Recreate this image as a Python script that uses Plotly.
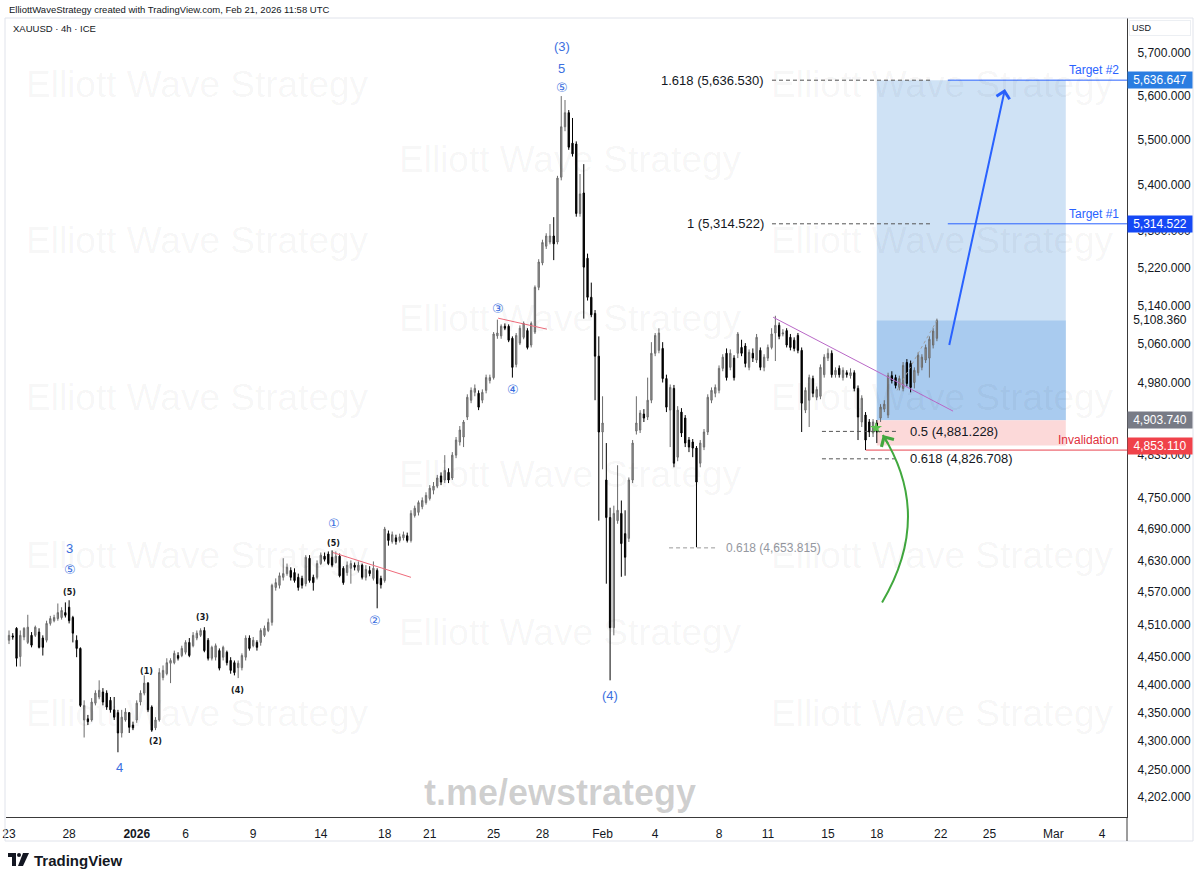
import numpy as np
import plotly.graph_objects as go

# ---------------- data (XAUUSD 4h) ----------------
open_ = [4481,4489,4503,4451,4487,4477,4490,4490,4496,4485,4481,4512,4517,4521,4523,4532,4542,4523,4481,4466,
         4337,4339,4337,4367,4378,4387,4385,4372,4355,4350,4314,4337,4350,4328,4337,4369,4385,4403,4360,4323,
         4337,4413,4420,4439,4440,4453,4453,4459,4477,4471,4485,4490,4499,4481,4448,4450,4462,4450,4459,4444,
         4440,4431,4431,4450,4485,4471,4477,4477,4490,4499,4514,4579,4583,4598,4605,4611,4607,4598,4596,4586,
         4634,4598,4598,4624,4638,4642,4636,4626,4638,4615,4607,4615,4621,4611,4621,4598,4611,4596,4611,4596,
         4592,4681,4666,4673,4668,4673,4677,4668,4716,4722,4733,4741,4749,4765,4773,4793,4785,4800,4789,4834,
         4860,4870,4910,4944,4960,4958,4944,4964,4984,4990,5076,5076,5096,5096,5071,5017,5061,5073,5087,5057,
         5084,5178,5230,5266,5275,5288,5275,5417,5530,5562,5493,5491,5337,5382,5240,5157,5123,5034,4880,4785,
         4712,4504,4706,4720,4681,4672,4785,4882,4884,4916,4910,4944,5040,5046,5050,4988,4924,4968,4830,4920,
         4908,4864,4860,4848,4818,4850,4880,4944,4958,4964,5009,5040,5011,5030,5040,5052,5055,5011,5040,5026,
         5046,5011,5030,5052,5082,5098,5080,5087,5073,5067,5077,5046,4924,4944,4988,4950,4952,4996,5030,5040,
         4996,5009,4990,5000,4994,5000,4968,4900,4914,4900,4878,4898,4908,4926,4914,4994,4990,4970,4968,5021,
         5019,4980,5000,5011,5026,5030,5057,5071]
high = [4499,4494,4505,4499,4505,4528,4496,4508,4503,4490,4517,4526,4528,4549,4542,4551,4555,4526,4490,4468,
        4372,4346,4376,4390,4408,4394,4390,4378,4378,4355,4355,4358,4351,4334,4372,4390,4417,4405,4363,4342,
        4430,4435,4448,4448,4462,4459,4471,4481,4485,4496,4499,4503,4505,4485,4471,4475,4466,4471,4462,4450,
        4444,4444,4457,4490,4490,4487,4481,4503,4508,4521,4586,4596,4607,4634,4624,4617,4615,4605,4601,4640,
        4640,4603,4630,4645,4645,4647,4649,4647,4643,4619,4628,4630,4626,4628,4624,4621,4619,4628,4615,4601,
        4694,4687,4685,4679,4681,4685,4683,4726,4735,4745,4751,4761,4775,4781,4795,4800,4834,4808,4840,4870,
        4892,4904,4956,4970,4976,4964,4966,4996,4996,5084,5110,5100,5102,5100,5075,5082,5098,5106,5092,5106,
        5182,5238,5280,5294,5314,5329,5420,5600,5591,5568,5550,5497,5424,5446,5250,5188,5130,5075,4952,4858,
        4731,4735,4814,4745,4726,4790,4864,4952,4924,4926,4990,5063,5082,5092,5063,4996,4976,4975,4932,4928,
        4914,4870,4866,4852,4864,4886,4956,4970,4976,5015,5038,5050,5048,5036,5084,5068,5061,5048,5050,5080,
        5052,5038,5058,5092,5118,5104,5090,5092,5080,5073,5082,5052,4970,4996,4994,4972,5017,5038,5050,5046,
        5011,5015,5011,5005,5009,5005,4974,4954,4920,4906,4906,4904,4936,4944,5000,5003,4996,4994,5022,5028,
        5025,5011,5042,5038,5058,5075,5092,5112]
low = [4474,4482,4433,4433,4481,4474,4468,4487,4466,4453,4477,4508,4514,4517,4519,4523,4512,4477,4450,4360,
       4306,4328,4334,4363,4374,4363,4355,4350,4337,4280,4306,4334,4314,4319,4332,4363,4381,4351,4316,4319,
       4334,4408,4417,4403,4437,4444,4450,4455,4450,4468,4481,4487,4459,4444,4444,4444,4426,4444,4435,4420,
       4417,4412,4426,4444,4462,4468,4462,4471,4487,4496,4508,4573,4577,4592,4601,4592,4588,4573,4577,4581,
       4588,4573,4594,4621,4628,4621,4617,4624,4598,4584,4601,4586,4611,4607,4594,4592,4600,4592,4540,4577,
       4588,4658,4662,4660,4664,4668,4664,4664,4712,4716,4728,4737,4745,4757,4769,4775,4779,4779,4785,4828,
       4853,4850,4904,4938,4952,4924,4938,4958,4978,4986,5070,5070,5088,5063,4990,5011,5057,5069,5048,5052,
       5080,5172,5225,5260,5270,5236,5270,5410,5520,5478,5463,5330,5330,5112,5150,5115,4944,4706,4806,4586,
       4408,4490,4700,4599,4601,4665,4779,4875,4878,4900,4904,4938,5034,5040,4980,4920,4850,4810,4822,4870,
       4850,4840,4830,4655,4810,4844,4874,4938,4950,4958,5003,4984,5005,4984,5030,5034,5011,5005,5022,5020,
       5005,5003,5024,5048,5024,5069,5075,5052,5046,5044,5040,4880,4918,4890,4950,4944,4946,4990,5024,4990,
       4990,4990,4984,4990,4988,4962,4864,4890,4844,4870,4870,4858,4900,4920,4908,4978,4968,4964,4962,4972,
       4960,4968,4994,5005,5020,4990,5050,5065]
close = [4490,4487,4448,4490,4503,4505,4472,4505,4468,4468,4512,4521,4523,4532,4536,4527,4517,4494,4466,4363,
         4363,4334,4369,4385,4390,4369,4360,4355,4342,4314,4342,4351,4324,4323,4367,4385,4403,4355,4319,4337,
         4422,4426,4440,4444,4457,4448,4466,4477,4453,4490,4494,4499,4462,4448,4468,4471,4430,4468,4440,4426,
         4422,4439,4453,4485,4466,4481,4468,4499,4503,4514,4583,4588,4601,4605,4617,4598,4592,4579,4583,4636,
         4592,4588,4624,4640,4632,4624,4621,4638,4601,4588,4621,4624,4617,4621,4598,4613,4605,4615,4586,4584,
         4690,4668,4679,4666,4675,4679,4668,4720,4730,4741,4745,4755,4769,4773,4789,4781,4804,4785,4834,4864,
         4884,4900,4950,4964,4968,4930,4960,4990,4990,5080,5082,5096,5092,5067,5011,5077,5092,5102,5052,5102,
         5178,5232,5274,5288,5288,5271,5415,5530,5562,5484,5469,5337,5380,5221,5157,5120,5034,4880,4898,4712,
         4504,4720,4726,4662,4636,4785,4858,4898,4918,4908,4944,5040,5077,5082,4988,4930,4970,4818,4924,4878,
         4858,4850,4848,4781,4858,4880,4950,4964,4970,5009,5032,4990,5040,4990,5080,5040,5019,5042,5030,5073,
         5011,5032,5052,5080,5098,5075,5082,5057,5052,5050,5046,4938,4964,4990,4958,4966,5011,5032,5040,4996,
         5005,4996,5005,4996,5000,4968,4910,4948,4864,4880,4900,4880,4930,4936,4994,4984,4974,4988,5015,4978,
         4970,5005,5036,5032,5052,5069,5086,5108.36]

# time-axis labels (bar index where each day label sits)
date_tick_bar = [0, 16, 34, 47, 65, 83, 100, 112, 129, 142, 158, 172, 189, 202, 218, 231, 248, 261, 278, 291]
date_tick_text = ["23", "28", "<b>2026</b>", "6", "9", "14", "18", "21", "25", "28",
                  "Feb", "4", "8", "11", "15", "18", "22", "25", "Mar", "4"]

# price-axis labels
price_tick_vals = [5700, 5600, 5500, 5400, 5300, 5220, 5140, 5060, 4980, 4900, 4835,
                   4750, 4690, 4630, 4570, 4510, 4450, 4400, 4350, 4300, 4250, 4202]

# Fibonacci levels & trade levels
fib_ext_prices = [5636.530, 5314.522]
fib_ext_text = ["1.618 (5,636.530)", "1 (5,314.522)"]
fib_ret_prices = [4881.228, 4826.708]
fib_ret_text = ["0.5 (4,881.228)", "0.618 (4,826.708)"]
fib_old_price = 4653.815
fib_old_text = "0.618 (4,653.815)"

entry_price = 4903.740
target2_price = 5636.647
target1_price = 5314.522
stop_price = 4853.110
last_price = 5108.360
invalidation_price = 4844

# Elliott wave labels: (bar, price, text, kind)
wave_labels = [
    (16.2, 4653, "3", "big"), (16.2, 4613, "⑤", "circ"), (16.0, 4570, "(5)", "small"),
    (36.7, 4424, "(1)", "small"), (38.9, 4299, "(2)", "small"), (51.6, 4523, "(3)", "small"),
    (60.7, 4390, "(4)", "small"), (29.3, 4254, "4", "big"),
    (86.5, 4700, "①", "circ"), (86.5, 4662, "(5)", "small"), (97.4, 4517, "②", "circ"),
    (130.2, 5133, "③", "circ"), (134.1, 4966, "④", "circ"),
    (147.2, 5716, "(3)", "big"), (147.2, 5664, "5", "big"), (147.2, 5619, "⑤", "circ"),
    (160.0, 4381, "(4)", "big"),
]

# drawn trendlines: (bar0, price0, bar1, price1, colour, dash)
trendlines = [
    (86.2, 4645, 107.0, 4598, "#ef6b7b", "solid"),
    (130.2, 5113, 143.2, 5090, "#ef6b7b", "solid"),
    (203.4, 5115, 251.3, 4922, "#b968c7", "solid"),
    (236.4, 4964, 247.0, 5108, "#a0a0a0", "3px,3px"),
]

# drawing anchors (bar index / price)
box_bar0, box_bar1 = 231.0, 281.3
ext_bar0, ext_bar1, ext_label_bar = 203.1, 245.7, 201.5
ret_bar0, ret_bar1, ret_label_bar = 216.4, 236.6, 239.3
old_bar0, old_bar1, old_label_bar = 175.7, 188.5, 190.3
target_bar0 = 249.9
invalid_bar0 = 228.1
blue_arrow = (250.2, 5054, 265.1, 5616)
green_arrow = (232.4, 4551, 246.1, 4715, 232.6, 4874)
green_star = (230.8, 4888)

# ---------------- figure ----------------
W, H = 1200, 881
ML, MR, MT, MB = 6, 73, 18, 64
PW, PH = W - ML - MR, H - MT - MB
XMIN, XMAX = -0.8, 297.6
YMIN, YMAX = 4168, 5782


def pxx(x):
    return (x - ML) / PW


def pxy(y):
    return (H - MB - y) / PH


FONT = "Liberation Sans, Arial, sans-serif"
BLUE = "#3b6fe0"
FIBDASH = "4px,3px"
bars = list(range(len(close)))

fig = go.Figure()
fig.add_trace(go.Candlestick(
    x=bars, open=open_, high=high, low=low, close=close,
    increasing=dict(line=dict(color="#6c6c6c", width=1), fillcolor="#9b9b9b"),
    decreasing=dict(line=dict(color="#000000", width=1), fillcolor="#000000"),
    whiskerwidth=0, hoverinfo="skip", showlegend=False,
))

# green star marker
fig.add_trace(go.Scatter(x=[green_star[0]], y=[green_star[1]], mode="markers",
                         marker=dict(symbol="star", size=9, color="#5cc14f"),
                         hoverinfo="skip", showlegend=False))

shapes = []
ann = []

# position tool boxes
shapes.append(dict(type="rect", xref="x", yref="y", x0=box_bar0, x1=box_bar1, y0=entry_price,
                   y1=target2_price, fillcolor="#cfe2f5", line=dict(width=0), layer="below"))
shapes.append(dict(type="rect", xref="x", yref="y", x0=box_bar0, x1=box_bar1, y0=entry_price,
                   y1=last_price, fillcolor="#a9cbef", line=dict(width=0), layer="below"))
shapes.append(dict(type="rect", xref="x", yref="y", x0=box_bar0, x1=box_bar1, y0=stop_price,
                   y1=entry_price, fillcolor="#fcd9d9", line=dict(width=0), layer="below"))

# fib extension dashed lines and labels
for p, t in zip(fib_ext_prices, fib_ext_text):
    shapes.append(dict(type="line", xref="x", yref="y", x0=ext_bar0, x1=ext_bar1, y0=p, y1=p,
                       line=dict(color="#555555", width=1, dash=FIBDASH)))
    ann.append(dict(x=ext_label_bar, y=np.log10(p), xref="x", yref="y", text=t, showarrow=False,
                    xanchor="right", yanchor="middle", font=dict(size=13, color="#131722", family=FONT)))
for p, t in zip(fib_ret_prices, fib_ret_text):
    shapes.append(dict(type="line", xref="x", yref="y", x0=ret_bar0, x1=ret_bar1, y0=p, y1=p,
                       line=dict(color="#555555", width=1, dash=FIBDASH)))
    ann.append(dict(x=ret_label_bar, y=np.log10(p), xref="x", yref="y", text=t, showarrow=False,
                    xanchor="left", yanchor="middle", font=dict(size=13, color="#131722", family=FONT)))
shapes.append(dict(type="line", xref="x", yref="y", x0=old_bar0, x1=old_bar1, y0=fib_old_price,
                   y1=fib_old_price, line=dict(color="#9a9a9a", width=1, dash=FIBDASH)))
ann.append(dict(x=old_label_bar, y=np.log10(fib_old_price), xref="x", yref="y", text=fib_old_text,
                showarrow=False, xanchor="left", yanchor="middle",
                font=dict(size=12, color="#9598a1", family=FONT)))

# target lines
for p, t in [(target2_price, "Target #2"), (target1_price, "Target #1")]:
    shapes.append(dict(type="line", xref="x", yref="y", x0=target_bar0, x1=XMAX, y0=p, y1=p,
                       line=dict(color="#2962ff", width=1)))
    ann.append(dict(x=pxx(1121), y=np.log10(p), xref="paper", yref="y", text=t, showarrow=False,
                    xanchor="right", yanchor="bottom", yshift=1,
                    font=dict(size=12, color="#2962ff", family=FONT)))

# invalidation line
shapes.append(dict(type="line", xref="x", yref="y", x0=invalid_bar0, x1=XMAX, y0=invalidation_price,
                   y1=invalidation_price, line=dict(color="#e8434f", width=1)))
ann.append(dict(x=pxx(1121), y=np.log10(invalidation_price), xref="paper", yref="y", text="Invalidation",
                showarrow=False, xanchor="right", yanchor="bottom", yshift=1,
                font=dict(size=12, color="#e0303c", family=FONT)))

# trendlines
for b0, p0, b1, p1, c, d in trendlines:
    shapes.append(dict(type="line", xref="x", yref="y", x0=b0, x1=b1, y0=p0, y1=p1,
                       line=dict(color=c, width=1, dash=d)))

# green curved arrow
g0b, g0p, gcb, gcp, g1b, g1p = green_arrow
shapes.append(dict(type="path", xref="x", yref="y",
                   path=f"M {g0b},{g0p} Q {gcb},{gcp} {g1b},{g1p}",
                   line=dict(color="#41a83e", width=2)))
ann.append(dict(x=g1b, y=np.log10(g1p), xref="x", yref="y", ax=6, ay=10, axref="pixel", ayref="pixel",
                text="", showarrow=True, arrowhead=4, arrowsize=1.4, arrowwidth=2, arrowcolor="#41a83e"))

# blue arrow
bb0, bp0, bb1, bp1 = blue_arrow
ann.append(dict(x=bb1, y=np.log10(bp1), xref="x", yref="y", ax=bb0, ay=np.log10(bp0), axref="x",
                ayref="y", text="", showarrow=True, arrowhead=4, arrowsize=1.3, arrowwidth=2,
                arrowcolor="#2962ff"))

# wave labels
for b, p, t, k in wave_labels:
    if k == "small":
        f = dict(size=8, color="#131722", family="DejaVu Sans")
        t = f"<b>{t}</b>"
    elif k == "circ":
        f = dict(size=13, color=BLUE, family="DejaVu Sans")
    else:
        f = dict(size=13, color=BLUE, family=FONT)
    ann.append(dict(x=b, y=np.log10(p), xref="x", yref="y", text=t, showarrow=False, borderpad=0,
                    xanchor="center", yanchor="middle", font=f))

# price badges on the axis
for p, bg, fc in [(target2_price, "#2a7de1", "white"), (target1_price, "#1548f5", "white"),
                  (entry_price, "#787b86", "white"), (stop_price, "#f0424a", "white")]:
    ann.append(dict(x=1, y=np.log10(p), xref="paper", yref="y", text=f"{p:,.3f}", showarrow=False,
                    xanchor="left", yanchor="middle", xshift=0, width=62, align="center",
                    bgcolor=bg, borderpad=1, font=dict(size=12, color=fc, family=FONT)))
ann.append(dict(x=1, y=np.log10(last_price), xref="paper", yref="y", text=f"{last_price:,.3f}",
                showarrow=False, xanchor="left", yanchor="middle", width=62, align="center",
                font=dict(size=12, color="#131722", family=FONT)))

# USD box
ann.append(dict(x=pxx(1129), y=pxy(28), xref="paper", yref="paper", text="USD", showarrow=False,
                xanchor="left", yanchor="middle", width=56, align="left", bgcolor="white",
                bordercolor="#eceff3", borderwidth=1, borderpad=2,
                font=dict(size=9, color="#131722", family=FONT)))

# header texts
ann.append(dict(x=pxx(7), y=pxy(9), xref="paper", yref="paper",
                text="ElliottWaveStrategy created with TradingView.com, Feb 21, 2026 11:58 UTC",
                showarrow=False, xanchor="left", yanchor="middle",
                font=dict(size=9.5, color="#131722", family=FONT)))
ann.append(dict(x=pxx(11), y=pxy(28), xref="paper", yref="paper", text="XAUUSD · 4h · ICE",
                showarrow=False, xanchor="left", yanchor="middle",
                font=dict(size=9.5, color="#131722", family=FONT)))

# watermarks
wm_cols = [197, 942]
wm_rows = [85, 240, 398, 555, 713]
for cx in wm_cols:
    for cy in wm_rows:
        ann.append(dict(x=pxx(cx), y=pxy(cy), xref="paper", yref="paper", text="Elliott Wave Strategy",
                        showarrow=False, xanchor="center", yanchor="middle",
                        font=dict(size=37, color="rgba(0,0,0,0.045)", family=FONT)))
for cy in [160, 318, 475, 632]:
    ann.append(dict(x=pxx(570), y=pxy(cy), xref="paper", yref="paper", text="Elliott Wave Strategy",
                    showarrow=False, xanchor="center", yanchor="middle",
                    font=dict(size=37, color="rgba(0,0,0,0.045)", family=FONT)))
ann.append(dict(x=pxx(560), y=pxy(792), xref="paper", yref="paper", text="<b>t.me/ewstrategy</b>",
                showarrow=False, xanchor="center", yanchor="middle",
                font=dict(size=36, color="rgba(0,0,0,0.19)", family=FONT)))

# TradingView logo
ann.append(dict(x=pxx(32), y=pxy(860), xref="paper", yref="paper", text="<b>TradingView</b>",
                showarrow=False, xanchor="left", yanchor="middle",
                font=dict(size=15, color="#131722", family=FONT)))
shapes.append(dict(type="rect", xref="paper", yref="paper", x0=pxx(8), x1=pxx(16), y0=pxy(857),
                   y1=pxy(853), fillcolor="#131722", line=dict(width=0)))
shapes.append(dict(type="rect", xref="paper", yref="paper", x0=pxx(12), x1=pxx(16), y0=pxy(866),
                   y1=pxy(853), fillcolor="#131722", line=dict(width=0)))
shapes.append(dict(type="circle", xref="paper", yref="paper", x0=pxx(17), x1=pxx(21), y0=pxy(857),
                   y1=pxy(853), fillcolor="#131722", line=dict(width=0)))
shapes.append(dict(type="path", xref="paper", yref="paper",
                   path=f"M {pxx(23)},{pxy(853)} L {pxx(29)},{pxy(853)} L {pxx(23)},{pxy(866)} "
                        f"L {pxx(18)},{pxy(866)} Z",
                   fillcolor="#131722", line=dict(width=0)))

# pane border and axis separator
shapes.append(dict(type="rect", xref="paper", yref="paper", x0=pxx(5), x1=pxx(1193), y0=pxy(841),
                   y1=pxy(18), line=dict(color="#e0e3eb", width=1)))
shapes.append(dict(type="line", xref="paper", yref="paper", x0=1, x1=1, y0=pxy(841), y1=0,
                   line=dict(color="#3a3a3a", width=1)))

fig.update_layout(
    width=W, height=H, margin=dict(l=ML, r=MR, t=MT, b=MB, autoexpand=False),
    paper_bgcolor="white", plot_bgcolor="white", showlegend=False, boxgap=0.5,
    font=dict(family=FONT, size=12, color="#131722"),
    shapes=shapes, annotations=ann, hovermode=False,
    xaxis=dict(range=[XMIN, XMAX], tickmode="array", tickvals=date_tick_bar, ticktext=date_tick_text,
               showgrid=False, zeroline=False, showline=True, linecolor="#3a3a3a", linewidth=1,
               ticks="", ticklabelstandoff=6, rangeslider=dict(visible=False), automargin=False,
               tickfont=dict(size=12, color="#131722", family=FONT)),
    yaxis=dict(type="log", range=[np.log10(YMIN), np.log10(YMAX)], side="right", tickmode="array",
               tickvals=price_tick_vals, ticktext=[f"{v:,.3f}" for v in price_tick_vals],
               showgrid=False, zeroline=False, showline=True, linecolor="#3a3a3a", linewidth=1,
               ticks="", ticklabelstandoff=7, automargin=False,
               tickfont=dict(size=12, color="#131722", family=FONT)),
)

# the page body has a default 8px margin; remove it so the figure sits at the window origin
fig.write_html("out.html", config={"displayModeBar": False},
               post_script="document.body.style.margin='0';document.body.style.padding='0';")
